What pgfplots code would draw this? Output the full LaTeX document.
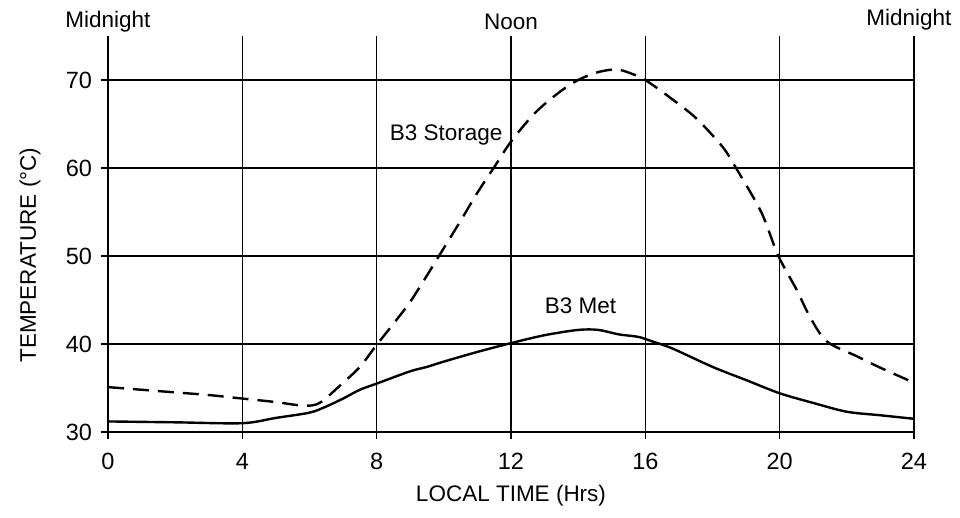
\documentclass[border=0pt]{standalone}
\usepackage{fontspec}
\setmainfont{Liberation Sans}
\usepackage{pgfplots}
\pgfplotsset{compat=1.18}
\newcommand{\fs}{\fontsize{22.5}{27}\selectfont}
\newcommand{\ft}{\fontsize{23.5}{28}\selectfont}

\begin{document}
\begin{tikzpicture}
\begin{axis}[
  x=33.583pt, y=8.8pt,
  xmin=0, xmax=24, ymin=30, ymax=75,
  axis x line=bottom, axis y line=left,
  axis line style={-, line width=1.6pt},
  xtick={0,4,...,24}, ytick={30,40,...,70},
  tick align=center, major tick length=15pt,
  tick style={line width=1.4pt, black},
  grid=major, grid style={line width=1.3pt, black},
  font=\fs,
  tick label style={font=\ft},
  label style={font=\fs},
  /pgf/number format/assume math mode=true,
  xticklabel style={yshift=-10pt},
  yticklabel style={xshift=-5pt},
  xlabel={LOCAL TIME (Hrs)},
  ylabel={TEMPERATURE (°C)},
  xlabel style={at={(rel axis cs:0.5,-0.162)}, anchor=center},
  ylabel style={at={(rel axis cs:-0.0967,0.4467)}, anchor=center, rotate=0},
  clip=false,
]
% B3 Storage (dashed)
\addplot[black, line width=2.4pt, dash pattern=on 16pt off 9pt, smooth, tension=0.5] coordinates {
  (0,35.1) (1,34.8) (2,34.5) (3,34.2) (4,33.8) (5,33.4) (5.8,33.0) (6.3,33.3)
  (7,35.6) (7.5,37.4) (8,39.9) (8.5,42.3) (9,44.8) (9.5,47.8) (10,50.9)
  (10.5,54.0) (11,57.2) (11.5,60.1) (12,63.0) (12.7,66.2) (13.4,68.5)
  (14,70.0) (14.6,70.9) (15.15,71.2) (15.6,70.7) (16,70.0) (16.7,68.1)
  (17.5,65.7) (18.3,62.4) (18.7,60.0) (19.45,55.0) (19.95,50.1) (20.5,46.2)
  (20.9,43.1) (21.4,40.3) (22.3,38.6) (23,37.3) (24,35.6)
};
% B3 Met (solid)
\addplot[black, line width=2.4pt, smooth, tension=0.5] coordinates {
  (0,31.2) (2,31.1) (4,31.0) (5,31.6) (6,32.2) (6.5,32.9) (7,33.8) (7.5,34.8)
  (8,35.5) (9,36.9) (9.5,37.4) (10,38.0) (11,39.1) (12,40.1) (13,41.0)
  (14,41.6) (14.6,41.6) (15.2,41.1) (15.8,40.8) (16.2,40.3) (16.8,39.5)
  (18,37.4) (19,35.9) (20,34.4) (21,33.3) (22,32.3) (23,31.9) (24,31.5)
};
\node at (axis cs:10.07,63.7) {B3 Storage};
\node at (axis cs:14.07,44.3) {B3 Met};
\node at (axis cs:0,76.6) {Midnight};
\node at (axis cs:12,76.6) {Noon};
\node at (axis cs:23.85,76.8) {Midnight};
\coordinate (bbl) at (axis cs:-3.216,20.23);
\coordinate (btr) at (axis cs:25.37,79.09);
\end{axis}
\useasboundingbox (bbl) rectangle (btr);
\end{tikzpicture}
\end{document}
